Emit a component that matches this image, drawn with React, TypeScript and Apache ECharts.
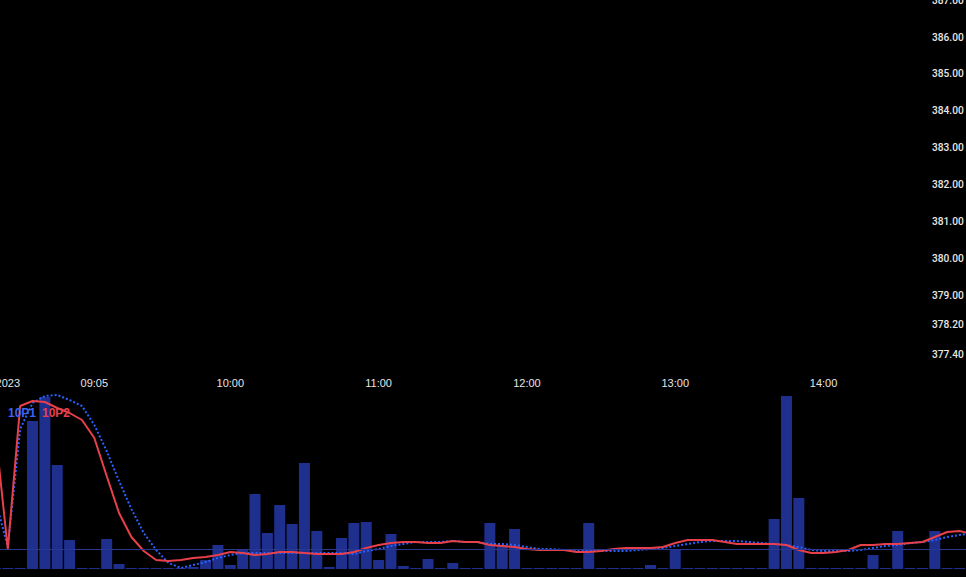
import React, { useEffect, useRef } from "react";
import * as echarts from "echarts";

// 5-minute categories from 08:25 to 15:00
const CATEGORIES: string[] = (() => {
  const out: string[] = [];
  for (let m = 8 * 60 + 25; m <= 15 * 60; m += 5) {
    out.push(`${String(Math.floor(m / 60)).padStart(2, "0")}:${String(m % 60).padStart(2, "0")}`);
  }
  return out;
})();

const TICK_TIMES = ["08:30", "09:05", "10:00", "11:00", "12:00", "13:00", "14:00"];
const TICK_TEXTS = ["2023", "09:05", "10:00", "11:00", "12:00", "13:00", "14:00"];

const PRICE_TICKS = [387, 386, 385, 384, 383, 382, 381, 380, 379, 378.2, 377.4];
const PRICE_MIN = 376.966;
const PRICE_MAX = 387.004;

// volume bars (arbitrary units)
const VOLUME = [
  1, 1, 1, 148, 172, 104, 29, 1, 1, 30,
  5, 1, 1, 1, 1, 1, 2, 9, 24, 4,
  20, 75, 36, 64, 45, 106, 38, 2, 31, 46,
  47, 9, 35, 3, 1, 10, 1, 6, 1, 1,
  46, 24, 40, 1, 1, 1, 1, 1, 46, 1,
  1, 1, 1, 4, 1, 20, 1, 1, 1, 1,
  1, 1, 1, 50, 173, 71, 1, 1, 1, 1,
  1, 14, 1, 38, 1, 1, 38, 1, 1, 1,
];

// 10P1 (blue dotted)
const P1 = [
  69, 22, 140, 166, 173, 174, 169, 163, 144, 118,
  88, 60, 36, 19, 6, 1, 4, 7, 11, 14,
  16, 16, 16, 16, 16, 16, 16, 16, 16, 15,
  18, 20, 23, 25, 27, 27, 27, 28, 27, 27,
  25, 25, 24, 22, 20, 20, 19, 19, 18, 18,
  18, 18, 19, 20, 21, 23, 25, 27, 28, 28,
  28, 27, 26, 25, 24, 22, 19, 18, 18, 18,
  19, 21, 23, 24, 26, 27, 29, 32, 34, 36,
];

// 10P2 (red solid)
const P2 = [
  137, 20, 163, 168, 167, 161, 156, 149, 131, 93,
  56, 32, 18, 9, 8, 9, 11, 12, 14, 17,
  16, 14, 15, 17, 17, 16, 15, 15, 15, 17,
  21, 24, 26, 27, 27, 26, 26, 28, 27, 27,
  24, 23, 22, 20, 19, 19, 19, 17, 17, 18,
  20, 21, 21, 21, 22, 26, 29, 29, 29, 27,
  25, 25, 25, 25, 24, 19, 16, 16, 17, 19,
  24, 24, 25, 25, 26, 27, 32, 37, 38, 35,
];

const LEVEL = 20;

const FONT = "'Liberation Sans', Arial, sans-serif";
const PRICE_FONT = "Roboto, 'Liberation Sans', Arial, sans-serif";

export default function App() {
  const ref = useRef<HTMLDivElement>(null);

  useEffect(() => {
    document.body.style.margin = "0";
    document.body.style.background = "#000";
    if (!ref.current) return;
    const chart = echarts.init(ref.current, undefined, { renderer: "svg" });
    chart.setOption({
      animation: false,
      backgroundColor: "#000000",
      grid: [
        { left: 0, top: 0, right: 40, height: 370, outerBoundsMode: "none", containLabel: false },
        { left: -10.74, top: 392, width: 988.8, height: 177, outerBoundsMode: "none", containLabel: false },
      ],
      xAxis: [
        { gridIndex: 0, type: "category", data: CATEGORIES, show: false },
        {
          gridIndex: 1,
          type: "category",
          data: CATEGORIES,
          position: "top",
          axisLine: { show: false },
          axisTick: { show: false },
          splitLine: { show: false },
          axisLabel: {
            interval: (_i: number, v: string) => TICK_TIMES.includes(v),
            formatter: (v: string) => TICK_TEXTS[TICK_TIMES.indexOf(v)] ?? "",
            color: "#e6e6e6",
            fontSize: 11,
            fontFamily: FONT,
            margin: 9,
            verticalAlign: "middle",
          },
        },
      ],
      yAxis: [
        {
          gridIndex: 0,
          type: "value",
          position: "right",
          min: PRICE_MIN,
          max: PRICE_MAX,
          splitLine: { show: false },
          axisLine: { show: false },
          axisTick: { show: false },
          axisLabel: {
            customValues: PRICE_TICKS,
            formatter: (v: number) => v.toFixed(2),
            color: "#e6e6e6",
            fontSize: 10.2,
            fontWeight: 500,
            fontFamily: PRICE_FONT,
            margin: 6,
          },
        },
        { gridIndex: 1, type: "value", min: 0, max: 177, show: false },
      ],
      series: [
        {
          type: "bar",
          xAxisIndex: 1,
          yAxisIndex: 1,
          data: VOLUME,
          barWidth: 11,
          itemStyle: { color: "#1e2f8e" },
          markLine: {
            silent: true,
            symbol: "none",
            label: { show: false },
            lineStyle: { color: "#28378f", width: 1, type: "solid", opacity: 1 },
            data: [{ yAxis: LEVEL }],
          },
        },
        {
          name: "10P1",
          type: "line",
          xAxisIndex: 1,
          yAxisIndex: 1,
          data: P1,
          symbol: "none",
          lineStyle: { color: "#2962ff", width: 2, type: "dotted" },
        },
        {
          name: "10P2",
          type: "line",
          xAxisIndex: 1,
          yAxisIndex: 1,
          data: P2,
          symbol: "none",
          lineStyle: { color: "#e8404a", width: 2 },
        },
      ],
      graphic: [
        {
          type: "text",
          x: 8,
          y: 413,
          z: 100,
          style: { text: "10P1", fill: "#3d63f5", fontSize: 12, fontWeight: "bold", fontFamily: FONT, verticalAlign: "middle" },
        },
        {
          type: "text",
          x: 42,
          y: 413,
          z: 100,
          style: { text: "10P2", fill: "#e8404a", fontSize: 12, fontWeight: "bold", fontFamily: FONT, verticalAlign: "middle" },
        },
      ],
    });
    return () => chart.dispose();
  }, []);

  return <div ref={ref} style={{ width: 966, height: 577 }} />;
}
